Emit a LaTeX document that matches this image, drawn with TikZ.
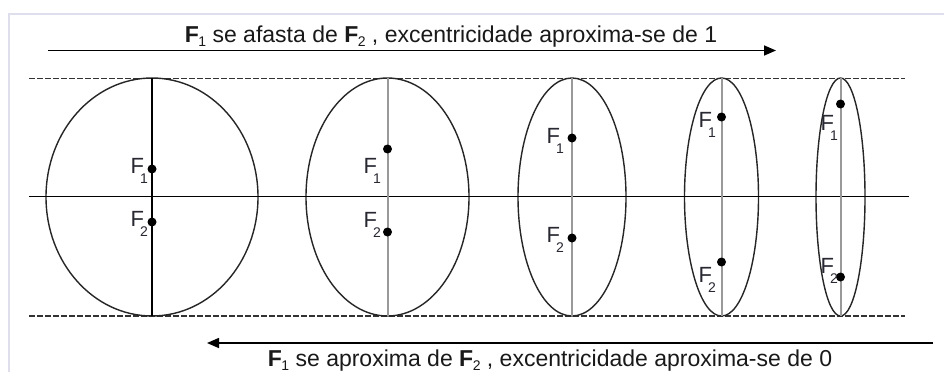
\documentclass[tikz,border=0pt]{standalone}
\usepackage{fontspec}
\setmainfont{Liberation Sans}
\usetikzlibrary{shapes.geometric,arrows.meta}
\definecolor{framecol}{RGB}{222,222,236}
\definecolor{labcol}{RGB}{40,40,50}
\tikzset{
  orbit/.style={draw=black!85, line width=1.4pt, ellipse, minimum height=238pt, inner sep=0pt, outer sep=0pt},
  focus/.style={circle, fill=black, inner sep=0pt, minimum size=9pt},
  flabel/.style={anchor=base east, inner sep=0pt, text=labcol, font=\fontsize{22}{22}\selectfont},
  guide/.style={dash pattern=on 5.5pt off 2.5pt, line width=1.2pt, black!80},
  axisline/.style={line width=1.4pt, black},
  minoraxis/.style={line width=2pt, black!40},
  caption/.style={font=\fontsize{23}{27}\selectfont, inner sep=0pt, anchor=base, text=black!90},
  bigarrow/.style={line width=1.6pt, -{Triangle[length=12pt,width=10pt]}},
}
\newcommand\flab[1]{F\kern-4pt\raisebox{-10pt}{\fontsize{14}{14}\selectfont #1}}
\newcommand\capF[1]{\textbf{F}\kern-0.5pt\raisebox{-4pt}{\fontsize{14}{14}\selectfont #1}}
\begin{document}
\begin{tikzpicture}[x=1pt,y=-1pt]
\useasboundingbox (0,0) rectangle (944,372);
\fill[white] (0,0) rectangle (944,372);
% frame
\draw[framecol, line width=2pt] (9,372) -- (9,14) -- (944,14);
% guide lines
\coordinate (gtl) at (29,78.5);
\coordinate (gtr) at (905,78.5);
\coordinate (gbl) at (29,316);
\coordinate (gbr) at (905,316);
\draw[guide] (gtl) -- (gtr);
\draw[guide] (gbl) -- (gbr);
% ellipses
\node[orbit, minimum width=212pt] (e1) at (152,197) {};
\node[orbit, minimum width=163pt] (e2) at (387.5,197) {};
\node[orbit, minimum width=108pt] (e3) at (572,197) {};
\node[orbit, minimum width=74pt] (e4) at (721.5,197) {};
\node[orbit, minimum width=49pt] (e5) at (840.5,197) {};
% horizontal axis
\coordinate (hl) at (29,196.5);
\coordinate (hr) at (909,196.5);
\draw[axisline] (hl) -- (hr);
% vertical axes
\draw[line width=1.4pt, black] (e1.north) -- (e1.south);
\draw[minoraxis] (e2.north) -- (e2.south);
\draw[minoraxis] (e3.north) -- (e3.south);
\draw[minoraxis] (e4.north) -- (e4.south);
\draw[minoraxis] (e5.north) -- (e5.south);
% foci
\node[focus] (f11) at (152,169) {};
\node[focus] (f12) at (152,222) {};
\node[focus] (f21) at (387.5,149) {};
\node[focus] (f22) at (387.5,232) {};
\node[focus] (f31) at (572,138) {};
\node[focus] (f32) at (572,238) {};
\node[focus] (f41) at (721.5,117) {};
\node[focus] (f42) at (721.5,262) {};
\node[focus] (f51) at (840.5,104) {};
\node[focus] (f52) at (840.5,277) {};
% labels
\node[flabel] (l11) at (148,173) {\flab{1}};
\node[flabel] (l12) at (148,226) {\flab{2}};
\node[flabel] (l21) at (381,173) {\flab{1}};
\node[flabel] (l22) at (381,227) {\flab{2}};
\node[flabel] (l31) at (564,143) {\flab{1}};
\node[flabel] (l32) at (564,242) {\flab{2}};
\node[flabel] (l41) at (716,127) {\flab{1}};
\node[flabel] (l42) at (716,282) {\flab{2}};
\node[flabel] (l51) at (838,130) {\flab{1}};
\node[flabel] (l52) at (838,273) {\flab{2}};
% arrows and captions
\coordinate (ta) at (48,50.5);
\coordinate (tb) at (776,50.5);
\draw[bigarrow] (ta) -- (tb);
\coordinate (ba) at (933,343);
\coordinate (bb) at (207,343);
\draw[bigarrow] (ba) -- (bb);
\node[caption] (tcap) at (451,42) {\capF{1} se afasta de \capF{2} , excentricidade aproxima-se de 1};
\node[caption] (bcap) at (550,366) {\capF{1} se aproxima de \capF{2} , excentricidade aproxima-se de 0};
\end{tikzpicture}
\end{document}
